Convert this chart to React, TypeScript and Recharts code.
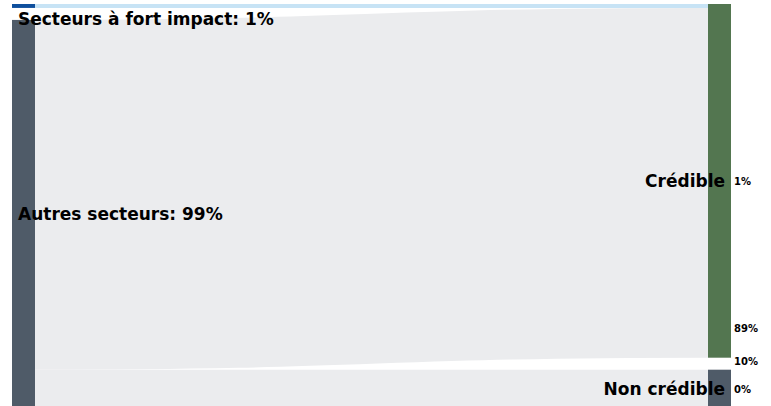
import React from "react";
import { Sankey } from "recharts";

// noeuds (sources puis cibles)
const nodeNames = ["Secteurs à fort impact", "Autres secteurs", "Crédible", "Non crédible"];
const nodeColors = ["#0e4f9d", "#4f5b68", "#537650", "#4f5b68"];
const sourceShares = ["1%", "99%"];

// flux: source -> cible
const flowSources = [0, 1, 1];
const flowTargets = [2, 2, 3];
const flowValues = [1, 89, 10];
const flowColors = ["#c7e3f5", "#ebecee", "#ebecee"];

// pourcentages affichés à droite des cibles
const targetShares = [
  ["1%", "89%", "10%"],
  ["0%"],
];

const data = {
  nodes: nodeNames.map((name) => ({ name })),
  links: flowValues.map((value, i) => ({
    source: flowSources[i],
    target: flowTargets[i],
    value,
  })),
};

const FONT = "'DejaVu Sans', sans-serif";

type Box = { x: number; y: number; w: number; h: number };
let boxes: Box[] = [];

function renderLabels() {
  const out: React.ReactNode[] = [];
  boxes.forEach((b, i) => {
    const cy = b.y + b.h / 2;
    if (i < sourceShares.length) {
      const ly = Math.max(cy, b.y + 15);
      out.push(
        <text key={`s${i}`} x={b.x + 6} y={ly + 6} fontFamily={FONT} fontWeight="bold" fontSize={17} fill="#000">
          {`${nodeNames[i]}: ${sourceShares[i]}`}
        </text>
      );
    } else {
      const t = i - sourceShares.length;
      out.push(
        <text key={`t${i}`} x={b.x + 17} y={cy + 6} textAnchor="end" fontFamily={FONT} fontWeight="bold" fontSize={17} fill="#000">
          {nodeNames[i]}
        </text>
      );
      const shares = targetShares[t] || [];
      const ys = [cy + 4, b.y + b.h - 26, b.y + b.h + 7.5];
      shares.forEach((s, k) => {
        out.push(
          <text key={`p${i}-${k}`} x={b.x + b.w + 3} y={ys[k]} fontFamily={FONT} fontWeight="bold" fontSize={10} fill="#000">
            {s}
          </text>
        );
      });
    }
  });
  return out;
}

function SankeyNode(props: any) {
  const { x, y, width, height, index } = props;
  if (index === 0) boxes = [];
  boxes[index] = { x, y, w: width, h: height };
  return (
    <g>
      <rect x={x} y={y} width={width} height={height} fill={nodeColors[index]} />
      {index === nodeNames.length - 1 && renderLabels()}
    </g>
  );
}

function SankeyLink(props: any) {
  const { sourceX, targetX, sourceY, targetY, sourceControlX, targetControlX, linkWidth, index } = props;
  return (
    <path
      d={`M${sourceX},${sourceY}C${sourceControlX},${sourceY} ${targetControlX},${targetY} ${targetX},${targetY}`}
      fill="none"
      stroke={flowColors[index] ?? "#ebecee"}
      strokeWidth={linkWidth}
    />
  );
}

export default function App() {
  return (
    <div style={{ position: "absolute", left: 0, top: 0, width: 771, height: 406, overflow: "hidden", background: "#fff" }}>
      <Sankey
        width={771}
        height={409}
        data={data}
        nodeWidth={23}
        nodePadding={12}
        iterations={0}
        sort={false}
        margin={{ top: 4, right: 40, bottom: 0, left: 12 }}
        node={SankeyNode}
        link={SankeyLink}
      />
    </div>
  );
}
